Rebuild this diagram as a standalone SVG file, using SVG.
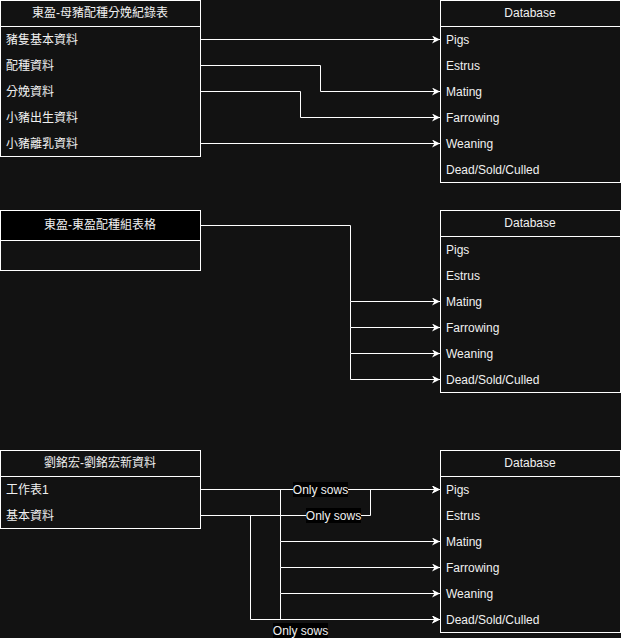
<svg xmlns="http://www.w3.org/2000/svg" width="621" height="638" viewBox="0 0 621 638">
<style>
.box{fill:#121212;stroke:#ffffff;stroke-width:1}
.hdr{fill:#121212;stroke:#ffffff;stroke-width:1}
.hdrb{fill:#000000;stroke:#ffffff;stroke-width:1}
.t{font-family:"Liberation Sans","Noto Sans CJK TC",Arial,sans-serif;font-size:12px;fill:#f0f0f0}
.c{text-anchor:middle}
.e{fill:none;stroke:#ffffff;stroke-width:1}
.lb{fill:#000000}
</style>
<defs>
<marker id="arr" viewBox="0 0 10 10" refX="10" refY="5" markerWidth="8" markerHeight="8" markerUnits="userSpaceOnUse" orient="auto">
<path d="M0,0 L10,5 L0,10 L3,5 Z" fill="#ffffff"/>
</marker>
</defs>
<rect width="621" height="638" fill="#121212"/>

<g id="t1">
<rect class="box" x="0.5" y="0.5" width="200" height="156"/>
<line x1="0.5" y1="26.5" x2="200.5" y2="26.5" stroke="#fff"/>
<text class="t c" x="100" y="17">東盈-母豬配種分娩紀錄表</text>
<text class="t" x="6" y="44">豬隻基本資料</text>
<text class="t" x="6" y="70">配種資料</text>
<text class="t" x="6" y="96">分娩資料</text>
<text class="t" x="6" y="122">小豬出生資料</text>
<text class="t" x="6" y="148">小豬離乳資料</text>
</g>

<g id="db1">
<rect class="box" x="440.5" y="0.5" width="180" height="182"/>
<line x1="440.5" y1="26.5" x2="620.5" y2="26.5" stroke="#fff"/>
<text class="t c" x="530" y="17">Database</text>
<text class="t" x="446" y="44">Pigs</text>
<text class="t" x="446" y="70">Estrus</text>
<text class="t" x="446" y="96">Mating</text>
<text class="t" x="446" y="122">Farrowing</text>
<text class="t" x="446" y="148">Weaning</text>
<text class="t" x="446" y="174">Dead/Sold/Culled</text>
</g>

<g id="t2">
<rect class="hdrb" x="0.5" y="210.5" width="200" height="30"/>
<rect class="box" x="0.5" y="240.5" width="200" height="30"/>
<text class="t c" x="100" y="229">東盈-東盈配種組表格</text>
</g>

<g id="db2">
<rect class="box" x="440.5" y="210.5" width="180" height="182"/>
<line x1="440.5" y1="236.5" x2="620.5" y2="236.5" stroke="#fff"/>
<text class="t c" x="530" y="227">Database</text>
<text class="t" x="446" y="254">Pigs</text>
<text class="t" x="446" y="280">Estrus</text>
<text class="t" x="446" y="306">Mating</text>
<text class="t" x="446" y="332">Farrowing</text>
<text class="t" x="446" y="358">Weaning</text>
<text class="t" x="446" y="384">Dead/Sold/Culled</text>
</g>

<g id="t3">
<rect class="box" x="0.5" y="450.5" width="200" height="78"/>
<line x1="0.5" y1="476.5" x2="200.5" y2="476.5" stroke="#fff"/>
<text class="t c" x="100" y="467">劉銘宏-劉銘宏新資料</text>
<text class="t" x="6" y="494">工作表1</text>
<text class="t" x="6" y="520">基本資料</text>
</g>

<g id="db3">
<rect class="box" x="440.5" y="450.5" width="180" height="182"/>
<line x1="440.5" y1="476.5" x2="620.5" y2="476.5" stroke="#fff"/>
<text class="t c" x="530" y="467">Database</text>
<text class="t" x="446" y="494">Pigs</text>
<text class="t" x="446" y="520">Estrus</text>
<text class="t" x="446" y="546">Mating</text>
<text class="t" x="446" y="572">Farrowing</text>
<text class="t" x="446" y="598">Weaning</text>
<text class="t" x="446" y="624">Dead/Sold/Culled</text>
</g>

<g id="connectors">
<path class="e" d="M200,39.5 H440" marker-end="url(#arr)"/>
<path class="e" d="M200,65.5 H320.5 V91.5 H440" marker-end="url(#arr)"/>
<path class="e" d="M200,91.5 H300.5 V117.5 H440" marker-end="url(#arr)"/>
<path class="e" d="M200,143.5 H440" marker-end="url(#arr)"/>

<path class="e" d="M200,225.5 H350.5 V301.5 H440" marker-end="url(#arr)"/>
<path class="e" d="M350.5,301.5 V327.5 H440" marker-end="url(#arr)"/>
<path class="e" d="M350.5,327.5 V353.5 H440" marker-end="url(#arr)"/>
<path class="e" d="M350.5,353.5 V379.5 H440" marker-end="url(#arr)"/>

<path class="e" d="M200,489.5 H440" marker-end="url(#arr)"/>
<path class="e" d="M200,515.5 H370.5 V489.5 H440" marker-end="url(#arr)"/>
<path class="e" d="M280.5,489.5 V541.5 H440" marker-end="url(#arr)"/>
<path class="e" d="M280.5,541.5 V567.5 H440" marker-end="url(#arr)"/>
<path class="e" d="M280.5,567.5 V593.5 H440" marker-end="url(#arr)"/>
<path class="e" d="M280.5,593.5 V619.5 H440" marker-end="url(#arr)"/>
<path class="e" d="M200,515.5 H250.5 V619.5 H440" marker-end="url(#arr)"/>

<rect class="lb" x="293" y="482" width="55" height="15"/>
<text class="t c" x="320.5" y="494">Only sows</text>
<rect class="lb" x="306" y="508" width="55" height="15"/>
<text class="t c" x="333.5" y="520">Only sows</text>
<rect class="lb" x="273" y="623" width="55" height="15"/>
<text class="t c" x="300.5" y="635">Only sows</text>
</g>
</svg>
